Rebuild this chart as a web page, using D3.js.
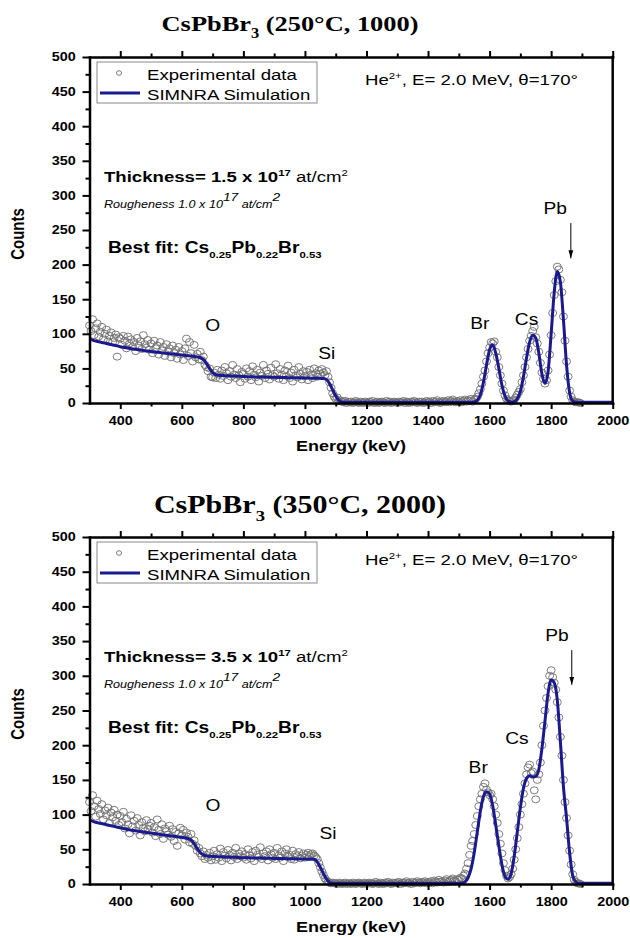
<!DOCTYPE html>
<html>
 <head>
   <meta charset="utf-8" />
   <title>CsPbBr3 RBS spectra</title>
   <script src="https://cdn.jsdelivr.net/npm/d3@7/dist/d3.min.js"></script>
   <style>
     body { margin: 0; background: #fff; }
     svg  { display: block; }
   </style>
 </head>

 <body>
   <script>
     var width = 630, height = 938;
     var sans = "'Liberation Sans', Arial, sans-serif";
     var serif = "'Liberation Serif', 'Times New Roman', serif";
     var simColor = "#1a1a8e";

     // channel calibration (keV) for the two data series
     var expStart = 300, expStep = 5;
     var simStart = 300, simStep = 10;

     var xTicks = [400, 600, 800, 1000, 1200, 1400, 1600, 1800, 2000];
     var xMinor = [500, 700, 900, 1100, 1300, 1500, 1700, 1900];
     var yTicks = [0, 50, 100, 150, 200, 250, 300, 350, 400, 450, 500];
     var yMinor = [25, 75, 125, 175, 225, 275, 325, 375, 425, 475];

     // panel 1 : CsPbBr3 (250°C, 1000)
     var exp1 = [
       112,104,121,98,108,115,96,103,110,92,100,106,89,97,102,88,94,99,67,95,
       93,84,97,90,79,96,86,92,81,88,75,94,83,89,78,98,85,80,91,77,
       86,72,90,79,83,70,88,76,81,68,85,74,79,66,83,72,77,64,81,70,
       75,62,79,93,68,88,72,60,84,66,71,63,74,62,67,55,52,46,50,38,
       37,44,36,48,41,35,47,39,52,43,33,46,38,55,41,36,49,40,30,45,
       42,35,50,38,46,33,53,41,37,48,31,44,39,55,36,47,42,34,51,40,
       38,56,43,35,49,41,33,47,39,54,36,44,31,48,40,37,52,42,34,46,
       39,45,33,48,41,36,50,43,38,47,42,49,44,40,46,38,30,22,14,9,
       6,8,3,4,2,1,3,0,2,1,2,0,1,3,1,0,2,1,0,2,
       1,0,2,1,3,0,1,2,0,1,2,1,0,3,1,2,0,1,2,1,
       0,2,1,1,3,0,2,1,0,2,1,3,1,0,2,1,2,0,1,3,
       1,2,0,3,1,2,4,1,0,2,3,1,2,4,1,3,5,2,1,3,
       2,4,1,3,5,2,4,3,6,2,5,6,9,14,20,28,38,47,60,72,
       80,88,86,89,74,66,52,40,28,18,11,6,4,3,2,3,5,8,12,16,
       20,30,40,52,66,78,90,97,104,110,95,86,74,58,44,35,28,33,47,70,
       98,130,156,176,197,193,178,160,125,90,60,38,18,9,4,2,1,1,1,0
     ];
     var sim1 = [
       92,91,89.5,88.5,87.5,86.5,85.5,84.5,83.5,82.5,
       81.5,80.5,79.8,79,78.2,77.5,76.8,76.2,75.6,75,
       74.4,73.8,73.3,72.8,72.3,71.8,71.3,70.8,70.3,69.8,
       69.3,68.8,68.3,67.8,67.2,66.5,65.5,63,57,50,
       44,41,40,39.7,39.5,39.3,39.1,38.9,38.7,38.5,
       38.3,38.1,37.9,37.8,37.7,37.6,37.5,37.4,37.3,37.2,
       37.1,37,36.9,36.8,36.7,36.6,36.5,36.4,36.3,36.2,
       36.1,36,35.9,35.8,35.7,35.6,35.4,34,28,19,
       10,4,1.5,1,1,1,1,1,1,1,
       1,1,1,1,1,1,1,1,1,1,
       1,1,1,1,1,1,1,1,1,1,
       1,1,1,1,1,1,1,1,1,1,
       1,1,1,1,1,1.5,4,12,30,55,
       77,84,72,50,26,10,3,1.5,2,6,
       17,38,65,88,98,94,72,42,28,45,
       100,160,190,175,120,55,15,3,1.5,1,
       1,1,1,1,1,1,1,1,1,1,1
     ];

     // panel 2 : CsPbBr3 (350°C, 2000)
     var exp2 = [
       118,105,128,112,97,120,108,101,115,93,106,99,110,88,103,96,107,91,100,85,
       98,89,104,80,94,86,73,99,83,91,77,95,85,70,89,81,76,92,79,84,
       88,74,82,69,93,78,72,86,65,80,76,71,84,68,79,62,75,55,73,81,
       70,78,64,74,68,60,72,58,63,55,48,52,44,40,47,36,42,38,45,34,
       40,48,35,43,38,51,33,46,41,37,49,42,34,45,39,52,36,44,40,47,
       38,43,35,50,41,37,46,33,48,42,39,53,36,44,40,47,34,50,43,38,
       45,36,52,41,38,47,33,44,50,39,42,36,48,35,43,40,46,37,41,44,
       38,42,45,40,43,44,41,39,36,30,24,18,13,8,5,3,2,1,2,1,
       1,0,2,1,0,1,2,0,1,1,0,2,1,0,1,2,1,0,1,2,
       0,1,2,1,0,1,3,1,0,2,1,0,2,1,3,1,0,2,1,2,
       1,3,0,2,1,2,4,1,2,0,3,1,2,4,2,1,3,2,4,1,
       3,2,4,1,5,3,2,6,3,4,2,5,7,3,4,6,8,5,4,7,
       6,9,8,12,15,22,30,42,55,62,72,85,98,112,122,130,140,145,136,132,
       128,130,122,112,100,88,72,58,44,30,20,12,8,10,14,22,35,50,66,82,
       100,115,130,145,158,168,172,160,162,135,122,150,158,175,200,228,250,268,285,300,
       308,298,290,280,262,240,212,185,150,118,95,70,48,28,14,6,3,1,1,0
     ];
     var sim2 = [
       92,90.5,89,88,87,86,85,84,83,82,
       81,80,79,78,77.3,76.6,76,75.3,74.7,74,
       73.3,72.7,72,71.4,70.8,70.2,69.6,69,68.4,67.8,
       67.2,66.5,65.5,63.5,58,51,45,42,40.5,40,
       39.8,39.6,39.4,39.2,39,38.8,38.6,38.4,38.2,38,
       37.9,37.8,37.7,37.6,37.5,37.4,37.3,37.2,37.1,37,
       36.9,36.8,36.7,36.6,36.5,36.4,36.3,36.2,36.1,36,
       35.9,35.8,35.7,35.5,32,24,15,7,2.5,1,
       1,1,1,1,1,1,1,1,1,1,
       1,1,1,1,1,1,1,1,1,1,
       1,1,1,1,1,1,1,1,1,1,
       1,1,1,1,1,1,1,1,1,1,
       1,1.5,3,9,22,45,75,105,126,133,
       130,113,85,55,28,11,7,15,40,75,
       110,138,152,156,154,155,165,195,235,275,
       294,290,265,205,140,95,45,12,3,1,
       1,1,1,1,1,1,1,1,1,1,1
     ];

     // element labels: name, energy (keV), counts at label centre
     var peakNames = ["O", "Si", "Br", "Cs", "Pb"];
     var peakE1 = [700, 1071, 1568, 1720, 1813];
     var peakC1 = [113, 72, 115, 121, 282];
     var peakE2 = [701, 1075, 1563, 1689, 1819];
     var peakC2 = [114, 73, 169, 210, 359];
     // Pb arrow: energy, from counts, to counts
     var arrow1 = [1864, 260, 209];
     var arrow2 = [1867, 337, 287];

     var titleRest = ["(250°C, 1000)", "(350°C, 2000)"];
     var thickness = ["1.5", "3.5"];

     var svg = d3.select("body")
                 .append("svg")
                 .attr("width",  width)
                 .attr("height", height);

     var defs = svg.append("defs");
     defs.append("marker")
         .attr("id", "arrowHead")
         .attr("viewBox", "0 0 10 10")
         .attr("refX", 10).attr("refY", 5)
         .attr("markerWidth", 8).attr("markerHeight", 8)
         .attr("orient", "auto")
       .append("path")
         .attr("d", "M0,2 L10,5 L0,8 Z")
         .style("fill", "#000");

     var x = d3.scaleLinear().domain([300, 2000]).range([89.5, 612.7]);

     // text in the picture is stretched sideways, so every label gets scale(1.2,1)
     function label(g, px, py, anchor, size, weight, style, family) {
       return g.append("text")
               .attr("transform", "translate(" + px + "," + py + ") scale(1.2,1)")
               .attr("text-anchor", anchor)
               .style("font-family", family || sans)
               .style("font-size", size + "px")
               .style("font-weight", weight || "normal")
               .style("font-style", style || "normal")
               .style("fill", "#000");
     }

     function part(t, s, size, dy, weight) {
       var ts = t.append("tspan").text(s);
       if (size)   ts.style("font-size", size + "px");
       if (dy)     ts.attr("dy", dy);
       if (weight) ts.style("font-weight", weight);
       return ts;
     }

     function drawPanel(p) {
       var y = d3.scaleLinear().domain([0, 500]).range([p.bottom, p.top]);
       var off = p.top - 57;
       var g = svg.append("g");
       var x0 = x.range()[0], x1 = x.range()[1];

       // experimental points
       g.selectAll("ellipse.pt")
           .data(p.exp)
         .enter().append("ellipse")
           .attr("class", "pt")
           .attr("cx", function(d, i) { return x(expStart + i * expStep); })
           .attr("cy", function(d) { return y(d); })
           .attr("rx", 4).attr("ry", 3.5)
           .style("fill", "none")
           .style("stroke", "#6e6e6e")
           .style("stroke-width", 0.9);

       // SIMNRA simulation
       var line = d3.line()
           .x(function(d, i) { return x(simStart + i * simStep); })
           .y(function(d) { return y(d); })
           .curve(d3.curveMonotoneX);

       g.append("path")
           .datum(p.sim)
           .attr("d", line)
           .style("fill", "none")
           .style("stroke", simColor)
           .style("stroke-width", 3)
           .style("stroke-linejoin", "round");

       // axes
       var gy = g.append("g").attr("transform", "translate(" + x0 + ",0)")
           .call(d3.axisLeft(y).tickValues(yTicks).tickSize(7).tickSizeOuter(0)
                   .tickFormat(d3.format("d")));
       gy.append("g")
           .call(d3.axisLeft(y).tickValues(yMinor).tickSize(4).tickFormat(""))
           .select(".domain").remove();
       gy.selectAll(".tick text")
           .attr("x", -11.5)
           .attr("transform", "scale(1.2,1)")
           .style("font-family", sans)
           .style("font-size", "12px")
           .style("font-weight", "bold");

       var gx = g.append("g").attr("transform", "translate(0," + p.bottom + ")")
           .call(d3.axisBottom(x).tickValues(xTicks).tickSize(6).tickSizeOuter(0)
                   .tickFormat(d3.format("d")));
       gx.append("g")
           .call(d3.axisBottom(x).tickValues(xMinor).tickSize(3.5).tickFormat(""))
           .select(".domain").remove();
       gx.selectAll(".tick text")
           .attr("y", 22).attr("dy", 0)
           .attr("transform", "scale(1.2,1)")
           .style("font-family", sans)
           .style("font-size", "12px")
           .style("font-weight", "bold");

       var gt = g.append("g").attr("transform", "translate(0," + p.top + ")")
           .call(d3.axisTop(x).tickValues(xTicks).tickSize(6).tickSizeOuter(0).tickFormat(""));
       gt.append("g")
           .call(d3.axisTop(x).tickValues(xMinor).tickSize(3.5).tickFormat(""))
           .select(".domain").remove();

       g.append("line")
           .attr("class", "frame")
           .attr("x1", x1).attr("x2", x1)
           .attr("y1", p.top).attr("y2", p.bottom)
           .style("stroke", "#000");

       g.selectAll(".domain, line.frame")
           .style("stroke-width", 2.5)
           .style("stroke-linecap", "square");
       g.selectAll(".tick line").style("stroke-width", 2);

       // axis titles
       label(g, 351, p.bottom + 48, "middle", 15, "bold").text("Energy (keV)");
       g.append("text")
           .attr("transform", "translate(24," + (p.top + 177) + ") scale(1.2,1) rotate(-90)")
           .attr("text-anchor", "middle")
           .style("font-family", sans)
           .style("font-size", "15px")
           .style("font-weight", "bold")
           .text("Counts");

       // chart title
       var tt = label(g, p.titleX, p.titleY, "middle", p.titleSize, "bold", "normal", serif);
       part(tt, "CsPbBr");
       part(tt, "3", p.titleSize * 0.62, p.titleSize * 0.3);
       part(tt, " " + p.titleRest, null, -p.titleSize * 0.3);

       // legend
       g.append("rect")
           .attr("x", 97).attr("y", 62 + off)
           .attr("width", 220).attr("height", 41)
           .style("fill", "#fff")
           .style("stroke", "#8a8a8a")
           .style("stroke-width", 1);
       g.append("ellipse")
           .attr("cx", 119).attr("cy", 73 + off)
           .attr("rx", 2.6).attr("ry", 2.3)
           .style("fill", "none").style("stroke", "#6e6e6e").style("stroke-width", 0.9);
       g.append("line")
           .attr("x1", 100).attr("x2", 140)
           .attr("y1", 93 + off).attr("y2", 93 + off)
           .style("stroke", simColor).style("stroke-width", 3);
       label(g, 147, 79.5 + off, "start", 15.5).text("Experimental data");
       label(g, 147, 99.5 + off, "start", 15.5).text("SIMNRA Simulation");

       // beam conditions
       var he = label(g, 365, 85 + off, "start", 15.5);
       part(he, "He");
       part(he, "2+", 9.5, -6);
       part(he, ", E= 2.0 MeV, θ=170°", null, 6);

       // fit results
       var th = label(g, 104, 182 + off, "start", 15.5, "bold");
       part(th, "Thickness= " + p.thickness + " x 10");
       part(th, "17", 9.5, -6);
       part(th, " at/cm", null, 6, "normal");
       part(th, "2", 9.5, -6, "normal");

       var ro = label(g, 104, 207.5 + off, "start", 10.5, "normal", "italic");
       part(ro, "Rougheness 1.0 x 10");
       part(ro, "17", 11.5, -7);
       part(ro, " at/cm", null, 7);
       part(ro, "2", 11.5, -7);

       var bf = label(g, 108, 253 + off, "start", 16, "bold");
       part(bf, "Best fit: Cs");
       part(bf, "0.25", 9.5, 5);
       part(bf, "Pb", null, -5);
       part(bf, "0.22", 9.5, 5);
       part(bf, "Br", null, -5);
       part(bf, "0.53", 9.5, 5);

       // element labels
       peakNames.forEach(function(n, i) {
         label(g, x(p.peakE[i]), y(p.peakC[i]) + 6, "middle", 16).text(n);
       });

       g.append("line")
           .attr("x1", x(p.arrow[0])).attr("x2", x(p.arrow[0]))
           .attr("y1", y(p.arrow[1])).attr("y2", y(p.arrow[2]))
           .style("stroke", "#000").style("stroke-width", 1)
           .attr("marker-end", "url(#arrowHead)");
     }

     drawPanel({ top: 57, bottom: 403, exp: exp1, sim: sim1,
                 peakE: peakE1, peakC: peakC1, arrow: arrow1,
                 titleRest: titleRest[0], thickness: thickness[0],
                 titleX: 290, titleY: 31, titleSize: 22 });

     drawPanel({ top: 537, bottom: 884, exp: exp2, sim: sim2,
                 peakE: peakE2, peakC: peakC2, arrow: arrow2,
                 titleRest: titleRest[1], thickness: thickness[1],
                 titleX: 300, titleY: 513, titleSize: 25 });
   </script>
 </body>
</html>
